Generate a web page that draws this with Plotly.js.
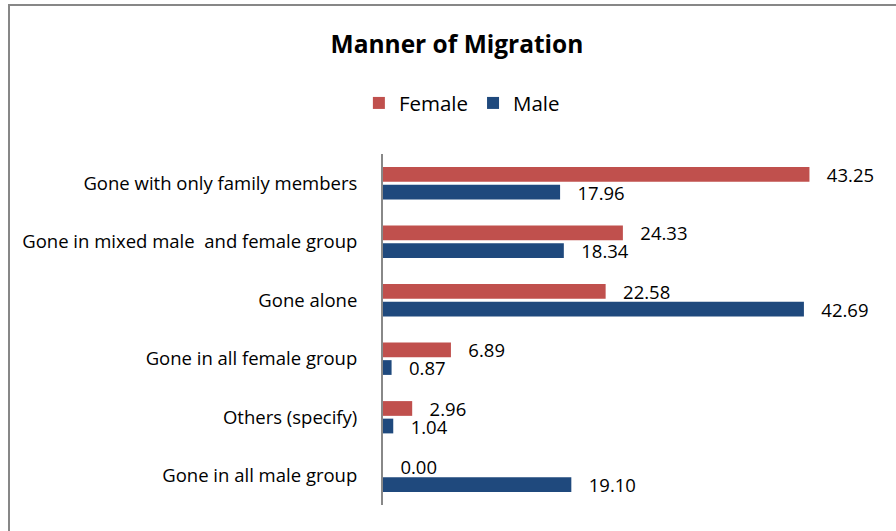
<!DOCTYPE html>
<html>
<head>
<meta charset="utf-8">
<script src="https://cdn.plot.ly/plotly-3.0.1.min.js"></script>
<style>
  body { margin: 0; background: #fff; }
  #wrap { position: relative; width: 896px; height: 531px; }
  #frame {
    position: absolute; left: 8px; top: 4px; right: 0; bottom: 0;
    border-left: 2px solid #878787; border-top: 2px solid #878787;
    pointer-events: none;
  }
  #chart { width: 896px; height: 531px; }
</style>
</head>
<body>
<div id="wrap">
  <div id="chart"></div>
  <div id="frame"></div>
</div>
<script>
// categories listed top to bottom
var categories = [
  'Gone with only family members',
  'Gone in mixed male  and female group',
  'Gone alone',
  'Gone in all female group',
  'Others (specify)',
  'Gone in all male group'
];
var female = [43.25, 24.33, 22.58, 6.89, 2.96, 0.00];
var male = [17.96, 18.34, 42.69, 0.87, 1.04, 19.10];

var labelFont = { family: 'Open Sans, sans-serif', size: 18.5, color: '#000' };

var femaleTrace = {
  type: 'bar',
  orientation: 'h',
  name: 'Female',
  y: categories,
  x: female,
  marker: { color: '#C0504D' },
  text: female.map(function (v) { return '\u00a0\u00a0\u00a0' + v.toFixed(2); }),
  textposition: 'outside',
  constraintext: 'none',
  textfont: labelFont,
  cliponaxis: false
};

var maleTrace = {
  type: 'bar',
  orientation: 'h',
  name: 'Male',
  y: categories,
  x: male,
  marker: { color: '#1F497D' },
  text: male.map(function (v) { return '\u00a0\u00a0\u00a0' + v.toFixed(2); }),
  textposition: 'outside',
  constraintext: 'none',
  textfont: labelFont,
  cliponaxis: false
};

var layout = {
  width: 896,
  height: 531,
  margin: { l: 383, r: 20, t: 154, b: 26 },
  paper_bgcolor: '#fff',
  plot_bgcolor: '#fff',
  title: {
    text: '<b>Manner of Migration</b>',
    font: { family: 'Open Sans, sans-serif', size: 24.5, color: '#000' },
    x: 0.51, xanchor: 'center',
    y: 0.917, yanchor: 'middle'
  },
  showlegend: true,
  legend: {
    orientation: 'h',
    x: 0.16, xanchor: 'center',
    y: 1.145, yanchor: 'middle',
    itemwidth: 30,
    font: { family: 'Open Sans, sans-serif', size: 20.5, color: '#000' }
  },
  barmode: 'group',
  bargap: 0.4,
  bargroupgap: 0.16,
  xaxis: {
    type: 'linear',
    autorange: false,
    range: [0, 50],
    showgrid: false,
    zeroline: false,
    showline: false,
    showticklabels: false,
    ticks: ''
  },
  yaxis: {
    autorange: 'reversed',
    showgrid: false,
    zeroline: false,
    showline: true,
    linecolor: '#888',
    linewidth: 2,
    ticks: '',
    ticklabelstandoff: 20,
    tickfont: labelFont
  }
};

Plotly.newPlot('chart', [femaleTrace, maleTrace], layout, { displayModeBar: false, staticPlot: true });
</script>
</body>
</html>
